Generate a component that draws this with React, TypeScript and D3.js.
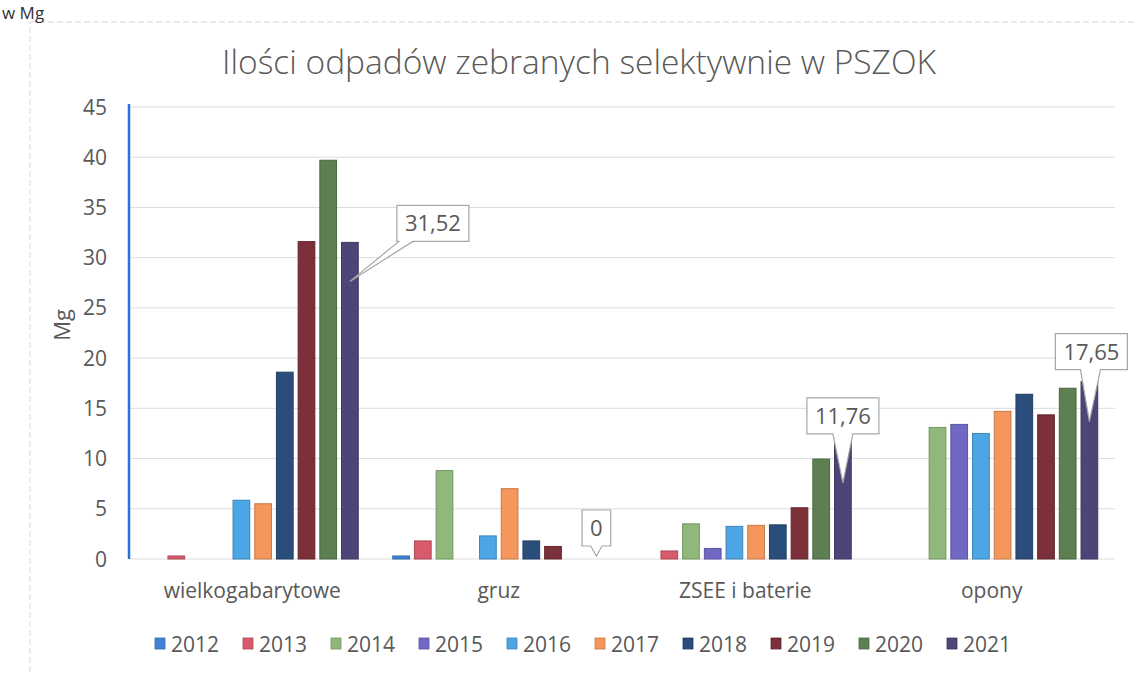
import React, { useEffect, useRef } from 'react';
import * as d3 from 'd3';

const categories = ['wielkogabarytowe', 'gruz', 'ZSEE i baterie', 'opony'];
const years = ['2012', '2013', '2014', '2015', '2016', '2017', '2018', '2019', '2020', '2021'];

// values per year, one entry per category
const v2012 = [0, 0.3, 0, 0];
const v2013 = [0.3, 1.8, 0.8, 0];
const v2014 = [0, 8.8, 3.5, 13.1];
const v2015 = [0, 0, 1.05, 13.4];
const v2016 = [5.85, 2.3, 3.25, 12.5];
const v2017 = [5.5, 7.0, 3.35, 14.7];
const v2018 = [18.6, 1.8, 3.4, 16.4];
const v2019 = [31.6, 1.25, 5.1, 14.35];
const v2020 = [39.7, 0, 9.95, 17.0];
const v2021 = [31.52, 0, 11.76, 17.65];
const seriesValues = [v2012, v2013, v2014, v2015, v2016, v2017, v2018, v2019, v2020, v2021];

const colors = ['#4282d2', '#d85a6c', '#8fb87a', '#7168c4', '#4ca5e4', '#f5965c', '#2b4d7b', '#7c303a', '#5d7f52', '#4c4578'];
const yTicks = [0, 5, 10, 15, 20, 25, 30, 35, 40, 45];

// data-label callouts: category index, year index, label text
const calloutCat = [0, 1, 2, 3];
const calloutYear = [9, 9, 9, 9];
const calloutText = ['31,52', '0', '11,76', '17,65'];
// layout of each callout box relative to the tip point
const calloutLayout = [
    { tipDrop: 39, dx: 83, dy: -58 },
    { tipDrop: -3, dx: 0, dy: -28 },
    { tipDrop: 42, dx: 0, dy: -67 },
    { tipDrop: 40, dx: 2, dy: -70 },
];

const W = 1137;
const H = 675;

function App() {
    const svgRef = useRef<SVGSVGElement | null>(null);

    useEffect(() => {
        const svg = d3.select(svgRef.current);
        svg.selectAll('*').remove();

        const left = 129, right = 1115, top = 107, bottom = 559;
        const font = "'Open Sans', 'DejaVu Sans', sans-serif";
        const grey = '#595959';

        svg.append('rect').attr('width', W).attr('height', H).attr('fill', '#fff');

        // chart area frame (dashed, faint)
        svg.append('rect')
            .attr('x', 30).attr('y', 22).attr('width', 1110).attr('height', 700)
            .attr('fill', 'none').attr('stroke', '#d6d6d6').attr('stroke-dasharray', '6,3');

        svg.append('text')
            .attr('x', 2).attr('y', 19)
            .style('font-family', font).style('font-size', '17px').attr('fill', '#333')
            .text('w Mg');

        const x0 = d3.scaleBand<string>().domain(categories).range([left, right]).padding(0);
        const bw = x0.bandwidth();
        const x1 = d3.scaleBand<string>().domain(years).range([bw * 0.07, bw * 0.93]).paddingInner(0.23).paddingOuter(0);
        const y = d3.scaleLinear().domain([0, 45]).range([bottom, top]);

        // title
        svg.append('text')
            .attr('x', 579).attr('y', 74)
            .attr('text-anchor', 'middle')
            .style('font-family', font).style('font-weight', 300).style('font-size', '33.5px')
            .attr('fill', grey)
            .text('Ilości odpadów zebranych selektywnie w PSZOK');

        // grid
        svg.append('g').selectAll('line')
            .data(yTicks)
            .enter()
            .append('line')
            .attr('x1', left).attr('x2', right)
            .attr('y1', d => y(d)).attr('y2', d => y(d))
            .attr('stroke', '#dcdcdc').attr('stroke-width', 1);

        // y tick labels
        svg.append('g').selectAll('text')
            .data(yTicks)
            .enter()
            .append('text')
            .attr('x', 107).attr('y', d => y(d) + 7.5)
            .attr('text-anchor', 'end')
            .style('font-family', font).style('font-size', '21px').attr('fill', grey)
            .text(d => d);

        // axis title
        svg.append('text')
            .attr('transform', `translate(70, 325) rotate(-90)`)
            .attr('text-anchor', 'middle')
            .style('font-family', font).style('font-size', '22px').attr('fill', grey)
            .text('Mg');

        // bars
        seriesValues.forEach((vals, si) => {
            svg.append('g').selectAll('rect')
                .data(vals.map((v, ci) => ({ v, c: categories[ci] })).filter(d => d.v > 0))
                .enter()
                .append('rect')
                .attr('x', d => (x0(d.c) as number) + (x1(years[si]) as number))
                .attr('y', d => y(d.v))
                .attr('width', x1.bandwidth())
                .attr('height', d => y(0) - y(d.v))
                .attr('fill', colors[si])
                .attr('stroke', d3.color(colors[si])!.darker(0.6).toString())
                .attr('stroke-width', 1);
        });

        // blue vertical axis line
        svg.append('line')
            .attr('x1', left).attr('x2', left).attr('y1', top - 3).attr('y2', bottom)
            .attr('stroke', '#2a6fdc').attr('stroke-width', 2.5);

        // category labels
        svg.append('g').selectAll('text')
            .data(categories)
            .enter()
            .append('text')
            .attr('x', d => (x0(d) as number) + bw / 2)
            .attr('y', 598)
            .attr('text-anchor', 'middle')
            .style('font-family', font).style('font-size', '21px').attr('fill', grey)
            .text(d => d);

        // callouts
        calloutCat.forEach((ci, k) => {
            const yi = calloutYear[k];
            const val = seriesValues[yi][ci];
            const tx = (x0(categories[ci]) as number) + (x1(years[yi]) as number) + x1.bandwidth() / 2;
            const ty = y(val) + calloutLayout[k].tipDrop;
            const g = svg.append('g');
            const t = g.append('text')
                .attr('text-anchor', 'middle')
                .style('font-family', font).style('font-size', '22px').attr('fill', grey)
                .text(calloutText[k]);
            const tw = (t.node() as SVGTextElement).getComputedTextLength();
            const boxW = tw + 16, boxH = 36;
            const cx = tx + calloutLayout[k].dx;
            const cy = ty + calloutLayout[k].dy;
            const bx = cx - boxW / 2, by = cy - boxH / 2;
            // wedge base on the bottom edge, towards the tip
            const baseMid = Math.max(bx + 6, Math.min(bx + boxW - 6, tx + (cx - tx) * 0.55));
            const b1 = Math.max(bx + 2, baseMid - Math.min(10, boxW * 0.2));
            const b2 = Math.min(bx + boxW - 2, baseMid + Math.min(10, boxW * 0.2));
            const p = d3.path();
            p.moveTo(bx, by);
            p.lineTo(bx + boxW, by);
            p.lineTo(bx + boxW, by + boxH);
            p.lineTo(b2, by + boxH);
            p.lineTo(tx, ty);
            p.lineTo(b1, by + boxH);
            p.lineTo(bx, by + boxH);
            p.closePath();
            g.insert('path', 'text')
                .attr('d', p.toString())
                .attr('fill', '#fff')
                .attr('stroke', '#a6a6a6').attr('stroke-width', 1.2);
            t.attr('x', cx).attr('y', cy + 8);
        });

        // legend
        const legend = svg.append('g').selectAll('g')
            .data(years)
            .enter()
            .append('g')
            .attr('transform', (d, i) => `translate(${155 + i * 88}, 0)`);
        legend.append('rect')
            .attr('x', 0).attr('y', 638).attr('width', 10).attr('height', 11)
            .attr('fill', (d, i) => colors[i])
            .attr('stroke', (d, i) => d3.color(colors[i])!.darker(0.6).toString())
            .attr('stroke-width', 0.8);
        legend.append('text')
            .attr('x', 16).attr('y', 652)
            .style('font-family', font).style('font-size', '21px').attr('fill', grey)
            .text(d => d);
    }, []);

    return (
        <div style={{ position: 'absolute', left: 0, top: 0, width: W, height: H, overflow: 'hidden' }}>
            <svg ref={svgRef} width={W} height={H} style={{ display: 'block' }}></svg>
        </div>
    );
}

export default App;
